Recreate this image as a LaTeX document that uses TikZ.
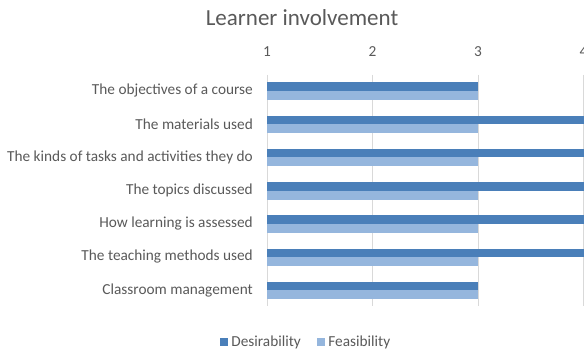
\documentclass[tikz,border=0pt]{standalone}
\usepackage{fontspec}
\setmainfont{Carlito}
\usetikzlibrary{positioning}
\definecolor{desir}{HTML}{4A7FB9}
\definecolor{feas}{HTML}{95B6DD}
\definecolor{txtgray}{HTML}{595959}
\definecolor{gridgray}{HTML}{D9D9D9}

\begin{document}
\begin{tikzpicture}[x=1pt,y=-1pt,
    lbl/.style={text=txtgray,inner sep=0pt,font=\fontsize{15.3}{18}\selectfont},
    dbar/.style={fill=desir},
    fbar/.style={fill=feas},
    key/.style={minimum size=8pt,inner sep=0pt}]
    \useasboundingbox (0,0) rectangle (584,350);
    \node[lbl,font=\fontsize{23}{27}\selectfont] (title) at (302,18) {Learner involvement};
    \foreach \v in {1,...,4} {
      \node[lbl] (tick\v) at ({267+105.5*(\v-1)},52) {\v};
      \draw[gridgray,line width=1pt] ({267+105.5*(\v-1)},75) -- ++(0,231);
    }
    \foreach \lab/\d [count=\i from 0] in
      {{The objectives of a course}/3, {The materials used}/4.2,
       {The kinds of tasks and activities they do}/4.2, {The topics discussed}/4.2,
       {How learning is assessed}/4.2, {The teaching methods used}/4.2,
       {Classroom management}/3} {
      \fill[dbar] (267,{91+33.2*\i-8.5}) rectangle ({267+105.5*(\d-1)},{91+33.2*\i});
      \fill[fbar] (267,{91+33.2*\i}) rectangle (478,{91+33.2*\i+9});
      \node[lbl,anchor=east] (row\i) at (253,{91+33.2*\i}) {\lab};
    }
    \node[key,fill=desir] (keyd) at (224,342) {};
    \node[lbl,right=3pt of keyd] (keydtxt) {Desirability};
    \node[key,fill=feas] (keyf) at (321,342) {};
    \node[lbl,right=3pt of keyf] (keyftxt) {Feasibility};
\end{tikzpicture}
\end{document}
